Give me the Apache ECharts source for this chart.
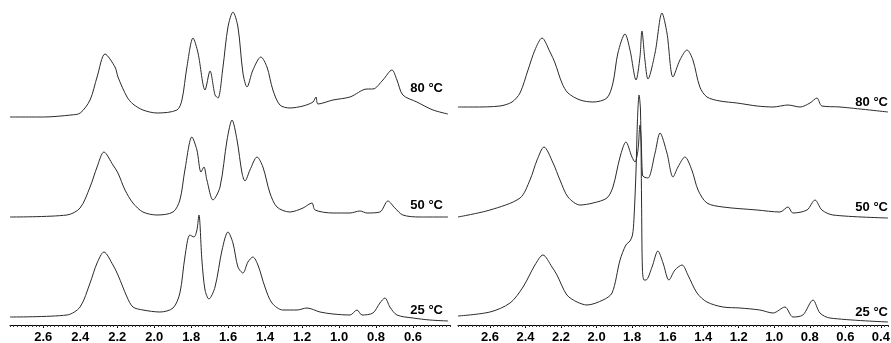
<!DOCTYPE html>
<html>
<head>
<meta charset="utf-8">
<script src="https://cdn.jsdelivr.net/npm/echarts@6/dist/echarts.min.js"></script>
<style>
    html, body { margin: 0; padding: 0; background: #fff; }
    #chart { width: 891px; height: 343px; }
</style>
</head>
<body>
<div id="chart"></div>
<script>
    // [ppm, intensity] pairs
    const left80 = [
        [2.78, 208], [2.60, 208], [2.45, 210], [2.40, 212], [2.347, 225], [2.309, 248], [2.266, 271],
        [2.212, 258], [2.196, 248], [2.147, 228], [2.115, 221], [2.061, 215], [1.985, 212], [1.877, 215],
        [1.850, 225], [1.823, 258], [1.790, 287], [1.763, 272], [1.725, 235], [1.698, 254], [1.671, 230],
        [1.655, 227], [1.628, 258], [1.601, 298], [1.574, 313], [1.547, 298], [1.520, 252], [1.498, 238],
        [1.466, 255], [1.423, 268], [1.390, 258], [1.358, 235], [1.320, 220], [1.266, 217], [1.195, 219],
        [1.141, 223], [1.125, 228], [1.114, 221], [1.033, 225], [0.941, 228], [0.849, 236], [0.817, 236],
        [0.763, 245], [0.714, 255], [0.687, 245], [0.655, 230], [0.579, 223], [0.492, 215], [0.411, 211]
    ];
    const left50 = [
        [2.78, 108], [2.472, 110], [2.401, 117], [2.347, 138], [2.309, 158], [2.272, 173], [2.223, 160],
        [2.196, 152], [2.158, 135], [2.115, 122], [2.061, 113], [1.985, 110], [1.898, 113], [1.861, 125],
        [1.834, 155], [1.796, 188], [1.769, 175], [1.747, 153], [1.731, 158], [1.715, 145], [1.682, 125],
        [1.644, 138], [1.606, 185], [1.579, 205], [1.552, 185], [1.525, 152], [1.509, 144], [1.482, 155],
        [1.444, 168], [1.412, 158], [1.374, 132], [1.336, 118], [1.266, 113], [1.195, 117], [1.147, 122],
        [1.130, 115], [1.033, 112], [0.941, 112], [0.887, 114], [0.849, 112], [0.779, 113], [0.736, 124],
        [0.698, 117], [0.655, 110], [0.563, 108], [0.411, 108]
    ];
    const left25 = [
        [2.78, 8], [2.472, 10], [2.401, 18], [2.347, 42], [2.309, 62], [2.272, 73], [2.223, 60],
        [2.196, 50], [2.147, 28], [2.115, 18], [2.061, 15], [1.969, 13], [1.898, 17], [1.861, 32],
        [1.834, 68], [1.807, 90], [1.785, 88], [1.769, 95], [1.758, 110], [1.742, 65], [1.725, 35],
        [1.704, 26], [1.671, 38], [1.633, 75], [1.601, 93], [1.574, 82], [1.547, 58], [1.520, 52],
        [1.493, 63], [1.466, 68], [1.439, 60], [1.401, 38], [1.363, 22], [1.304, 15], [1.228, 15],
        [1.174, 17], [1.103, 13], [1.033, 11], [0.941, 10], [0.903, 15], [0.876, 10], [0.817, 12],
        [0.779, 22], [0.752, 27], [0.725, 18], [0.687, 10], [0.600, 7], [0.509, 5], [0.411, 4]
    ];
    const right80 = [
        [2.78, 218], [2.696, 218], [2.544, 219], [2.476, 223], [2.431, 232], [2.386, 255], [2.347, 275],
        [2.307, 287], [2.262, 273], [2.234, 262], [2.195, 242], [2.161, 232], [2.093, 225], [2.020, 223],
        [1.942, 227], [1.908, 242], [1.880, 272], [1.840, 291], [1.812, 275], [1.778, 245], [1.756, 268],
        [1.745, 294], [1.728, 265], [1.711, 246], [1.671, 272], [1.632, 312], [1.604, 292], [1.570, 248],
        [1.531, 265], [1.491, 275], [1.458, 265], [1.419, 238], [1.379, 228], [1.306, 224], [1.210, 222],
        [1.097, 219], [1.007, 218], [0.923, 220], [0.855, 218], [0.799, 222], [0.760, 227], [0.732, 219],
        [0.630, 218], [0.36, 213]
    ];
    const right50 = [
        [2.78, 108], [2.600, 115], [2.431, 127], [2.375, 145], [2.335, 165], [2.296, 178], [2.245, 162],
        [2.206, 145], [2.161, 128], [2.093, 120], [2.020, 122], [1.942, 127], [1.908, 138], [1.868, 168],
        [1.835, 183], [1.801, 168], [1.784, 163], [1.767, 175], [1.756, 200], [1.749, 185], [1.742, 150],
        [1.733, 148], [1.711, 147], [1.671, 172], [1.643, 192], [1.604, 172], [1.570, 148], [1.542, 158],
        [1.503, 168], [1.464, 155], [1.429, 135], [1.379, 122], [1.289, 118], [1.097, 115], [0.968, 113],
        [0.923, 118], [0.895, 112], [0.816, 115], [0.771, 125], [0.732, 115], [0.670, 110], [0.36, 107]
    ];
    const right25 = [
        [2.78, 9], [2.600, 13], [2.487, 22], [2.414, 38], [2.347, 60], [2.302, 70], [2.251, 58],
        [2.223, 50], [2.167, 30], [2.110, 23], [2.054, 20], [1.964, 25], [1.913, 32], [1.868, 65],
        [1.835, 80], [1.812, 84], [1.798, 90], [1.790, 105], [1.778, 155], [1.770, 205], [1.761, 230],
        [1.753, 215], [1.747, 125], [1.742, 55], [1.733, 45], [1.722, 45], [1.688, 58], [1.655, 74],
        [1.626, 62], [1.593, 45], [1.559, 55], [1.519, 60], [1.486, 50], [1.435, 32], [1.379, 23],
        [1.289, 18], [1.193, 17], [1.081, 15], [1.007, 12], [0.940, 18], [0.895, 8], [0.839, 10],
        [0.782, 25], [0.743, 12], [0.687, 7], [0.36, 3]
    ];
    const tempLabels = ['80 °C', '50 °C', '25 °C'];

    const font = 'Liberation Sans, Arial, sans-serif';
    const chart = echarts.init(document.getElementById('chart'));

    const ppmAxis = (grid, min, max) => ({
        type: 'value', gridIndex: grid, position: 'bottom', inverse: true,
        min: min, max: max, minInterval: 0.2, maxInterval: 0.2,
        splitLine: { show: false },
        axisLine: { show: true, lineStyle: { color: '#000', width: 1 } },
        axisTick: { show: true, length: 3, lineStyle: { color: '#000' } },
        axisLabel: {
            show: true, margin: 6, color: '#000', fontFamily: font, fontWeight: 'bold', fontSize: 13,
            showMinLabel: false, showMaxLabel: false,
            formatter: v => v.toFixed(1)
        }
    });
    const minorAxis = (grid, min, max) => ({
        type: 'value', gridIndex: grid, position: 'bottom', inverse: true,
        min: min, max: max, interval: 0.02,
        splitLine: { show: false },
        axisLine: { show: false },
        axisTick: { show: true, length: 2, lineStyle: { color: '#333' } },
        axisLabel: { show: false }
    });
    const yAxis = grid => ({ type: 'value', gridIndex: grid, min: 0, max: 325, show: false });

    const trace = (data, xi, yi) => ({
        type: 'line', data: data, xAxisIndex: xi, yAxisIndex: yi,
        showSymbol: false, smooth: 0.3, silent: true,
        lineStyle: { color: '#2a2a2a', width: 1 }
    });

    const labelPos = [
        [443, [88, 205, 310]],
        [888, [102, 207, 312]]
    ];
    const graphic = [];
    labelPos.forEach(([x, ys]) => {
        ys.forEach((y, i) => {
            graphic.push({
                type: 'text', x: x, y: y,
                style: {
                    text: tempLabels[i], fill: '#000', align: 'right', verticalAlign: 'middle',
                    font: 'bold 13px ' + font
                }
            });
        });
    });

    chart.setOption({
        animation: false,
        grid: [
            { left: 10, width: 440, top: 0, bottom: 18, containLabel: false, outerBoundsMode: 'none' },
            { left: 458, width: 430, top: 0, bottom: 18, containLabel: false, outerBoundsMode: 'none' }
        ],
        xAxis: [ppmAxis(0, 0.4, 2.78), minorAxis(0, 0.4, 2.78), ppmAxis(1, 0.36, 2.78), minorAxis(1, 0.36, 2.78)],
        yAxis: [yAxis(0), yAxis(1)],
        series: [
            trace(left80, 0, 0), trace(left50, 0, 0), trace(left25, 0, 0),
            trace(right80, 2, 1), trace(right50, 2, 1), trace(right25, 2, 1)
        ],
        graphic: graphic
    });
</script>
</body>
</html>
